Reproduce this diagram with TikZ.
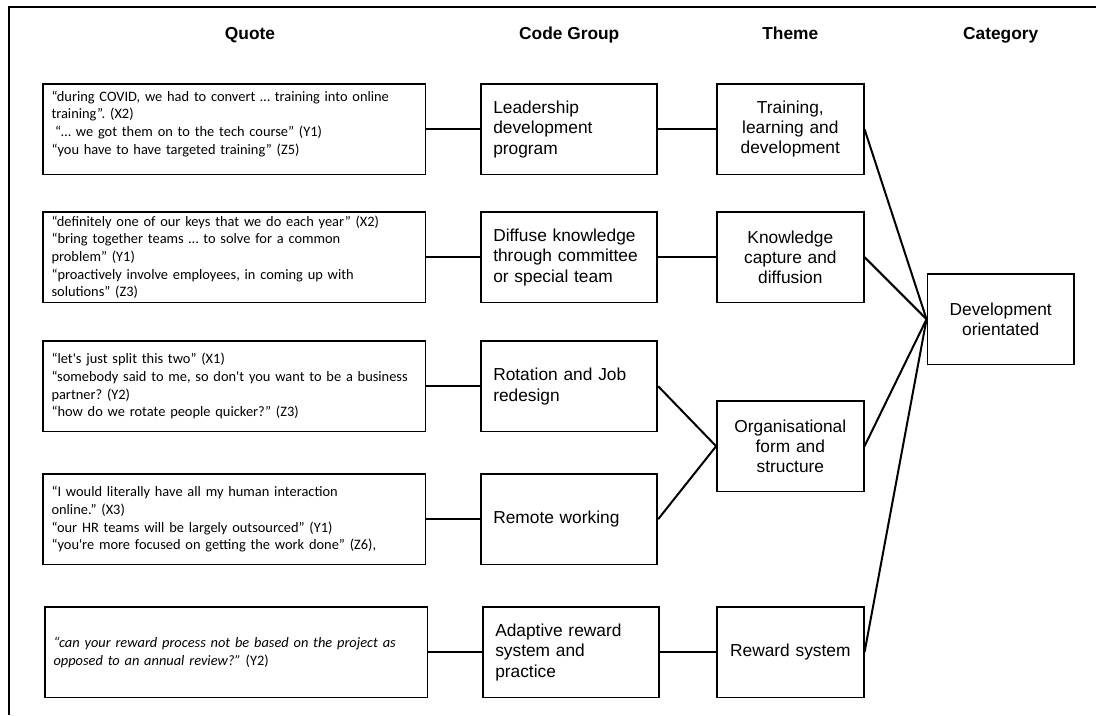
\documentclass[tikz,border=0pt]{standalone}
\usepackage{fontspec}
\setmainfont{Liberation Sans}
\newfontfamily\quotefont{Carlito}
\usetikzlibrary{positioning}
\frenchspacing

\begin{document}
\begin{tikzpicture}[x=0.75pt,y=-0.75pt]

\tikzstyle{heading}=[text height={10pt},text depth={3pt},font={\bfseries\fontsize{13}{15}\selectfont}]
\tikzstyle{quotebox}=[draw,rectangle,anchor={north west},line width={1.3pt},minimum width={287pt},minimum height={68pt},inner xsep={6.5pt},inner ysep={1pt},text width={274pt},align={left},font={\quotefont\fontsize{10.8}{13.3}\selectfont\hyphenpenalty=10000}]
\tikzstyle{codebox}=[draw,rectangle,anchor={north west},line width={1.3pt},minimum width={132pt},minimum height={68pt},inner xsep={9pt},text width={114pt},align={left},font={\fontsize{13}{15.5}\selectfont}]
\tikzstyle{themebox}=[draw,rectangle,anchor={north west},line width={1.3pt},minimum width={110pt},minimum height={68pt},inner xsep={3pt},text width={104pt},align={center},font={\fontsize{13}{15}\selectfont}]
\tikzstyle{link}=[line width={1.5pt}]

\useasboundingbox (0,0) rectangle (1096,715);

% frame

\draw [line width={1.3pt}] (9,715) -- (9,7) -- (1096,7) ;

% quotes: nodes

\node at (42,83)  [quotebox] (Q1) {“during COVID, we had to convert … training into online\\training”. (X2)\\\hspace{0.25em}“… we got them on to the tech course” (Y1)\\“you have to have targeted training” (Z5)\rule[-10pt]{0pt}{1pt}} ;
\node at (42,211) [quotebox] (Q2) {“definitely one of our keys that we do each year” (X2)\\“bring together teams … to solve for a common\\problem” (Y1)\\“proactively involve employees, in coming up with\\solutions” (Z3)} ;
\node at (42,340) [quotebox] (Q3) {“let\textquotesingle s just split this two” (X1)\\\mbox{“somebody said to me, so don\textquotesingle t you want to be a business}\\partner? (Y2)\\“how do we rotate people quicker?” (Z3)} ;
\node at (42,473) [quotebox] (Q4) {“I would literally have all my human interaction\\online.” (X3)\\“our HR teams will be largely outsourced” (Y1)\\“you\textquotesingle re more focused on getting the work done” (Z6),} ;
\node at (44,606) [quotebox] (Q5) {\itshape “can your reward process not be based on the project as\\\itshape opposed to an annual review?” \upshape(Y2)} ;

% code groups: nodes

\node at ([shift={(+54,0)}] Q1.north east) [codebox] (C1) {Leadership\\development\\program} ;
\node at ([shift={(+54,0)}] Q2.north east) [codebox] (C2) {Diffuse knowledge\\through committee\\or special team} ;
\node at ([shift={(+54,0)}] Q3.north east) [codebox] (C3) {Rotation and Job\\redesign} ;
\node at ([shift={(+54,0)}] Q4.north east) [codebox] (C4) {Remote working} ;
\node at ([shift={(+54,0)}] Q5.north east) [codebox] (C5) {Adaptive reward\\system and\\practice} ;

% themes: nodes

\node at ([shift={(+58,0)}]  C1.north east) [themebox] (T1) {Training,\\learning and\\development} ;
\node at ([shift={(+58,0)}]  C2.north east) [themebox] (T2) {Knowledge\\capture and\\diffusion} ;
\node at ([shift={(+58,60)}] C3.north east) [themebox] (T3) {Organisational\\form and\\structure} ;
\node at ([shift={(+56,0)}]  C5.north east) [themebox] (T4) {Reward system} ;

% category: node

\node at ([shift={(+62,62)}] T2.north east) [themebox] (K) {Development\\orientated} ;

% headings

\node at (250,35) [heading] (HQ) {Quote} ;
\node at (C1.north |- HQ) [heading] (HC) {Code Group} ;
\node at (T1.north |- HQ) [heading] (HT) {Theme} ;
\node at (K.north |- HQ)  [heading] (HK) {Category} ;

% connections: quotes and code groups

\draw [link] (Q1.east) -- (C1.west) ;
\draw [link] (Q2.east) -- (C2.west) ;
\draw [link] (Q3.east) -- (C3.west) ;
\draw [link] (Q4.east) -- (C4.west) ;
\draw [link] (Q5.east) -- (C5.west) ;

% connections: code groups and themes

\draw [link] (C1.east) -- (T1.west) ;
\draw [link] (C2.east) -- (T2.west) ;
\draw [link] (C3.east) -- (T3.west) ;
\draw [link] (C4.east) -- (T3.west) ;
\draw [link] (C5.east) -- (T4.west) ;

% connections: themes and category

\draw [link] (T1.east) -- (K.west) ;
\draw [link] (T2.east) -- (K.west) ;
\draw [link] (T3.east) -- (K.west) ;
\draw [link] (T4.east) -- (K.west) ;

\end{tikzpicture}
\end{document}
